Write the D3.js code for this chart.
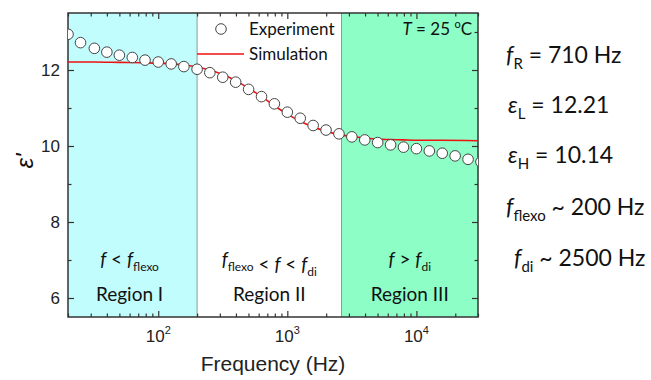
<!DOCTYPE html>
<html>
<head>
<meta charset="utf-8">
<script src="https://cdn.jsdelivr.net/npm/d3@7"></script>
<style>
body { margin: 0; background: #fff; }
svg { display: block; }
.tick text { display: none; }
</style>
</head>
<body>
<svg width="651" height="380"></svg>
<script>
var freq = [20, 25, 32, 40, 50, 63, 79, 100, 126, 158, 200, 251, 316, 398, 501, 631, 794,
            1000, 1259, 1585, 1995, 2512, 3162, 3981, 5012, 6310, 7943, 10000, 12589, 15849, 19953, 25119, 31623];
var expt = [12.94, 12.72, 12.57, 12.47, 12.39, 12.33, 12.26, 12.21, 12.16, 12.09, 12.02, 11.93, 11.81, 11.68, 11.49, 11.30, 11.11,
            10.89, 10.73, 10.54, 10.42, 10.32, 10.24, 10.16, 10.09, 10.03, 9.97, 9.93, 9.87, 9.81, 9.74, 9.65, 9.58];

// simulation curve
var simFreq = [20, 32, 50, 79, 100, 126, 158, 200, 251, 316, 398, 501, 631, 794,
               1000, 1259, 1585, 1995, 2512, 3162, 3981, 5012, 6310, 7943, 10000, 15849, 30000];
var sim = [12.21, 12.21, 12.20, 12.19, 12.18, 12.16, 12.13, 12.08, 12.00, 11.88, 11.72, 11.52, 11.30, 11.06,
           10.84, 10.65, 10.50, 10.39, 10.30, 10.25, 10.21, 10.18, 10.17, 10.16, 10.15, 10.15, 10.14];

var regionEdges = [200, 2630];
var yMajor = [6, 8, 10, 12];
var yMinor = [7, 9, 11, 13];
var xMajor = [100, 1000, 10000];

var svg = d3.select("svg"),
    margin = {top: 13, right: 173, bottom: 63, left: 68},
    width = +svg.attr("width") - margin.left - margin.right,
    height = +svg.attr("height") - margin.top - margin.bottom;

var x = d3.scaleLog().domain([20, 30000]).range([0, width]);
var y = d3.scaleLinear().domain([5.5, 13.5]).range([height, 0]);

var g = svg.append("g").attr("transform", "translate(" + margin.left + "," + margin.top + ")");

g.append("clipPath").attr("id", "clip")
  .append("rect").attr("width", width).attr("height", height);

// coloured regions
g.append("rect")
  .attr("x", 0).attr("y", 0)
  .attr("width", x(regionEdges[0])).attr("height", height)
  .attr("fill", "#c2fdfd");
g.append("rect")
  .attr("x", x(regionEdges[1])).attr("y", 0)
  .attr("width", width - x(regionEdges[1])).attr("height", height)
  .attr("fill", "#8dfec6");
g.selectAll(".edge").data(regionEdges).enter().append("line")
  .attr("x1", function(d) { return x(d); })
  .attr("x2", function(d) { return x(d); })
  .attr("y1", 0).attr("y2", height)
  .attr("stroke", "#8a9a9a").attr("stroke-width", 1);

// ticks (all pointing inward)
var xMinor = x.ticks().filter(function(d) { return xMajor.indexOf(d) < 0; });
function tickStyle(sel) {
  sel.select(".domain").remove();
  sel.selectAll("line").attr("stroke", "#333").attr("stroke-width", 1.2);
}
g.append("g").attr("transform", "translate(0," + height + ")")
  .call(d3.axisBottom(x).tickValues(xMajor).tickSize(-6)).call(tickStyle);
g.append("g").attr("transform", "translate(0," + height + ")")
  .call(d3.axisBottom(x).tickValues(xMinor).tickSize(-3.5)).call(tickStyle);
g.append("g")
  .call(d3.axisTop(x).tickValues(xMajor).tickSize(-6)).call(tickStyle);
g.append("g")
  .call(d3.axisTop(x).tickValues(xMinor).tickSize(-3.5)).call(tickStyle);
g.append("g")
  .call(d3.axisLeft(y).tickValues(yMajor).tickSize(-6)).call(tickStyle);
g.append("g")
  .call(d3.axisLeft(y).tickValues(yMinor).tickSize(-3.5)).call(tickStyle);
g.append("g").attr("transform", "translate(" + width + ",0)")
  .call(d3.axisRight(y).tickValues(yMajor).tickSize(-6)).call(tickStyle);
g.append("g").attr("transform", "translate(" + width + ",0)")
  .call(d3.axisRight(y).tickValues(yMinor).tickSize(-3.5)).call(tickStyle);

// frame
g.append("rect").attr("width", width).attr("height", height)
  .attr("fill", "none").attr("stroke", "#333").attr("stroke-width", 1.5);

// tick labels
g.selectAll(".ylab").data(yMajor).enter().append("text")
  .attr("x", -8).attr("y", function(d) { return y(d); })
  .attr("dy", "0.36em")
  .attr("text-anchor", "end")
  .style("font", "17px 'Liberation Sans', Arial, sans-serif")
  .attr("fill", "#222")
  .text(function(d) { return d; });

var xl = g.selectAll(".xlab").data(xMajor).enter().append("text")
  .attr("x", function(d) { return x(d); })
  .attr("y", height + 25)
  .attr("text-anchor", "middle")
  .style("font", "17px 'Liberation Sans', Arial, sans-serif")
  .attr("fill", "#222");
xl.append("tspan").text("10");
xl.append("tspan").attr("dy", -8).style("font-size", "11px")
  .text(function(d) { return Math.round(Math.log10(d)); });

// axis titles
g.append("text")
  .attr("x", width / 2).attr("y", height + 54)
  .attr("text-anchor", "middle")
  .style("font", "21px 'Liberation Sans', Arial, sans-serif")
  .attr("fill", "#222")
  .text("Frequency (Hz)");
svg.append("text")
  .attr("transform", "translate(33," + (margin.top + 148) + ") rotate(-90)")
  .attr("text-anchor", "middle")
  .style("font", "italic 24px 'Liberation Sans', Arial, sans-serif")
  .attr("fill", "#111")
  .text("ε'");

// data
var plot = g.append("g").attr("clip-path", "url(#clip)");
var line = d3.line()
  .curve(d3.curveMonotoneX)
  .x(function(d) { return x(d[0]); })
  .y(function(d) { return y(d[1]); });
plot.append("path")
  .datum(d3.zip(simFreq, sim))
  .attr("d", line)
  .attr("fill", "none")
  .attr("stroke", "#ee1111")
  .attr("stroke-width", 1.6);
plot.selectAll("circle").data(d3.zip(freq, expt)).enter().append("circle")
  .attr("cx", function(d) { return x(d[0]); })
  .attr("cy", function(d) { return y(d[1]); })
  .attr("r", 5.3)
  .attr("fill", "#fff")
  .attr("stroke", "#444")
  .attr("stroke-width", 1);

// legend
var lf = "17px Lato, 'Open Sans', sans-serif";
g.append("circle").attr("cx", 153).attr("cy", 16).attr("r", 5.3)
  .attr("fill", "#fff").attr("stroke", "#444");
g.append("text").attr("x", 181).attr("y", 22).style("font", lf).attr("fill", "#111").text("Experiment");
g.append("line").attr("x1", x(regionEdges[0])).attr("x2", 176).attr("y1", 41).attr("y2", 41)
  .attr("stroke", "#ee1111").attr("stroke-width", 1.3);
g.append("text").attr("x", 181).attr("y", 47).style("font", lf).attr("fill", "#111").text("Simulation");

var tt = g.append("text").attr("x", width - 6).attr("y", 22).attr("text-anchor", "end")
  .style("font", lf).attr("fill", "#111");
tt.append("tspan").style("font-style", "italic").text("T");
tt.append("tspan").text(" = 25 ");
tt.append("tspan").attr("dy", -7).style("font-size", "11px").text("o");
tt.append("tspan").attr("dy", 7).text("C");

// region labels
function sub(t, main, s) {
  t.append("tspan").style("font-style", "italic").text(main);
  t.append("tspan").attr("dy", 5).style("font-size", "12px").text(s);
  t.append("tspan").attr("dy", -5).text("");
}
var regFont = "19px Lato, 'Open Sans', sans-serif";
var xI = x(regionEdges[0]) / 2 - 3,
    xII = (x(regionEdges[0]) + x(regionEdges[1])) / 2,
    xIII = (x(regionEdges[1]) + width) / 2;

var r1 = g.append("text").attr("x", xI).attr("y", 253).attr("text-anchor", "middle")
  .style("font", regFont).attr("fill", "#111");
r1.append("tspan").style("font-style", "italic").text("f");
r1.append("tspan").text(" < ");
sub(r1, "f", "flexo");

var r2 = g.append("text").attr("x", xII).attr("y", 253).attr("text-anchor", "middle")
  .style("font", regFont).attr("fill", "#111");
sub(r2, "f", "flexo");
r2.append("tspan").text(" < ");
r2.append("tspan").style("font-style", "italic").text("f");
r2.append("tspan").text(" < ");
sub(r2, "f", "di");

var r3 = g.append("text").attr("x", xIII).attr("y", 253).attr("text-anchor", "middle")
  .style("font", regFont).attr("fill", "#111");
r3.append("tspan").style("font-style", "italic").text("f");
r3.append("tspan").text(" > ");
sub(r3, "f", "di");

g.selectAll(".reg").data([["Region I", xI], ["Region II", xII], ["Region III", xIII]])
  .enter().append("text")
  .attr("x", function(d) { return d[1]; })
  .attr("y", 288)
  .attr("text-anchor", "middle")
  .style("font", regFont).attr("fill", "#111")
  .text(function(d) { return d[0]; });

// parameter list on the right
var pf = "23px Lato, 'Open Sans', sans-serif";
var params = [
  {sym: "f", s: "R", rest: " = 710 Hz", x: 506, y: 63},
  {sym: "ε", s: "L", rest: " = 12.21", x: 508, y: 113},
  {sym: "ε", s: "H", rest: " = 10.14", x: 508, y: 163},
  {sym: "f", s: "flexo", rest: " ~ 200 Hz", x: 506, y: 215},
  {sym: "f", s: "di", rest: " ~ 2500 Hz", x: 514, y: 266}
];
params.forEach(function(p) {
  var t = svg.append("text").attr("x", p.x).attr("y", p.y)
    .style("font", pf).attr("fill", "#111");
  t.append("tspan").style("font-style", "italic").text(p.sym);
  t.append("tspan").attr("dy", 6).style("font-size", "15px").text(p.s);
  t.append("tspan").attr("dy", -6).text(p.rest);
});
</script>
</body>
</html>
